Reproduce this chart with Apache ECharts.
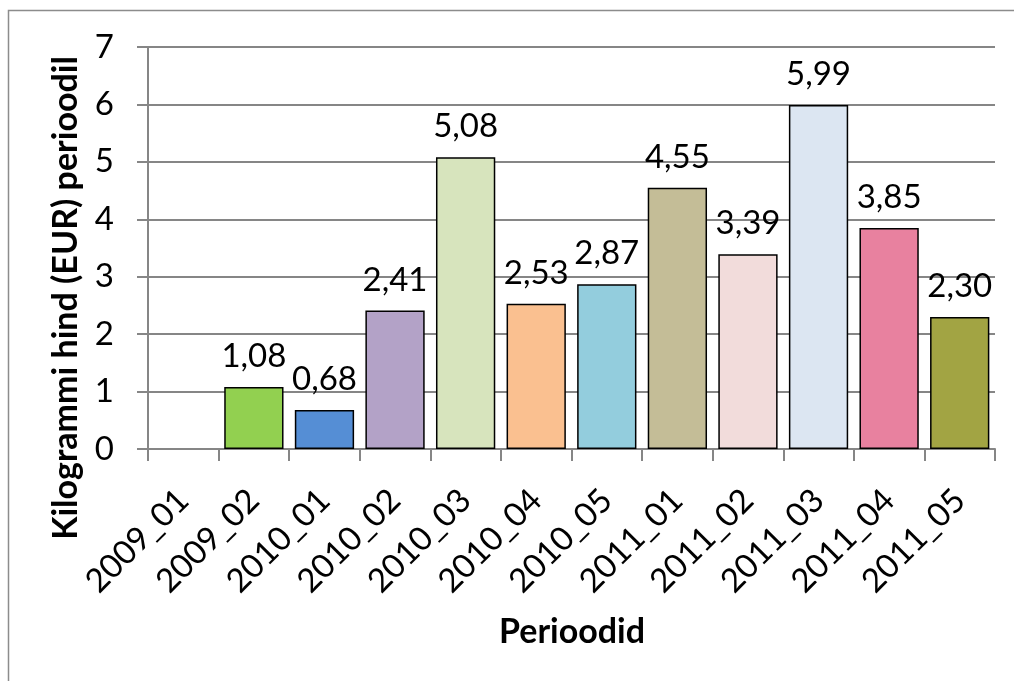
<!DOCTYPE html>
<html>
<head>
<meta charset="utf-8">
<script src="https://cdn.jsdelivr.net/npm/echarts@6/dist/echarts.min.js"></script>
<style>
html,body{margin:0;padding:0;background:#fff;}
#chart{width:1014px;height:681px;}
</style>
</head>
<body>
<div id="chart"></div>
<script>
const categories = ['2009_01','2009_02','2010_01','2010_02','2010_03','2010_04','2010_05','2011_01','2011_02','2011_03','2011_04','2011_05'];
const values = [null, 1.08, 0.68, 2.41, 5.08, 2.53, 2.87, 4.55, 3.39, 5.99, 3.85, 2.30];
const barColors = ['#ffffff','#92D050','#558ED5','#B3A2C7','#D7E4BD','#FAC090','#93CDDD','#C4BD97','#F2DCDB','#DCE6F2','#E8819F','#A2A443'];
const yTicks = [0,1,2,3,4,5,6,7];
const xTitle = 'Perioodid';
const yTitle = 'Kilogrammi hind (EUR) perioodil';

const FONT = 'Lato, "Open Sans", sans-serif';
const chart = echarts.init(document.getElementById('chart'));
chart.setOption({
  animation: false,
  backgroundColor: '#fff',
  grid: {left: 148, right: 19, top: 47, bottom: 232, containLabel: false},
  graphic: [
    {type: 'rect', shape: {x: 8.5, y: 10.5, width: 1100, height: 800}, style: {fill: 'none', stroke: '#8c8c8c', lineWidth: 1.5}, silent: true},
    {type: 'text', x: 66, y: 298, rotation: Math.PI/2, style: {text: yTitle, font: 'bold 34px ' + FONT, fill: '#000', align: 'center', verticalAlign: 'middle'}},
    {type: 'text', x: 572, y: 632, style: {text: xTitle, font: 'bold 34px ' + FONT, fill: '#000', align: 'center', verticalAlign: 'middle'}}
  ],
  xAxis: {
    type: 'category',
    data: categories,
    axisLine: {show: true, lineStyle: {color: '#868686', width: 2}},
    axisTick: {show: true, length: 12, alignWithLabel: false, lineStyle: {color: '#868686', width: 2}},
    axisLabel: {rotate: 45, margin: 46, color: '#000', fontSize: 33, fontFamily: FONT, interval: 0}
  },
  yAxis: {
    type: 'value',
    min: yTicks[0], max: yTicks[yTicks.length-1], interval: 1,
    axisLine: {show: true, lineStyle: {color: '#868686', width: 2}},
    axisTick: {show: true, length: 11, lineStyle: {color: '#868686', width: 2}},
    splitLine: {show: true, lineStyle: {color: '#868686', width: 2}},
    axisLabel: {color: '#000', fontSize: 33, fontFamily: FONT, margin: 34}
  },
  series: [{
    type: 'bar',
    data: values.map((v, i) => v === null ? '-' : {value: v, itemStyle: {color: barColors[i]}}),
    barCategoryGap: '16%',
    itemStyle: {borderColor: '#000', borderWidth: 1.5},
    label: {
      show: true, position: 'top', distance: 14, color: '#000', fontSize: 33, fontFamily: FONT,
      formatter: p => p.value.toFixed(2).replace('.', ',')
    }
  }]
});
</script>
</body>
</html>
